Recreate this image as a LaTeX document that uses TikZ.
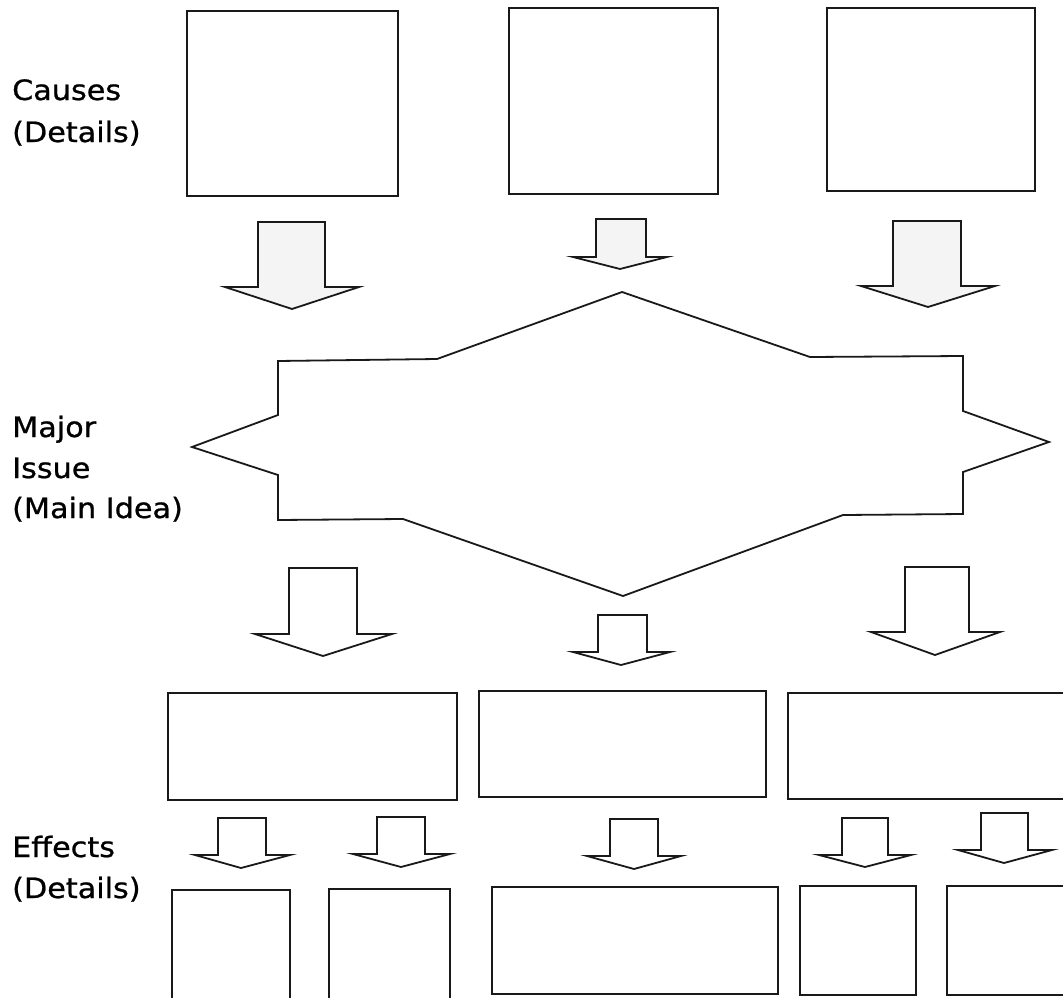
\documentclass[tikz,border=0pt]{standalone}
\usepackage{fontspec}
\newfontfamily\lblfont[FakeStretch=1.08,FakeBold=0.8]{DejaVu Sans}
\begin{document}
\begin{tikzpicture}[x=1pt,y=-1pt,
  outline/.style={draw=black!90, line width=1.8pt, line join=miter},
  box/.style={outline, fill=white, rectangle},
  shadedarrow/.style={outline, fill=gray!9},
  plainarrow/.style={outline, fill=white},
  lbl/.style={anchor=base west, inner sep=0pt, font=\lblfont\fontsize{28}{30}\selectfont, text=black}]
\useasboundingbox (0,0) rectangle (1063,998);
\clip (0,0) rectangle (1063,998);
\fill[white] (0,0) rectangle (1063,998);
% shaft left, shaft right, top, head y, head left, head right, tip x, tip y
\newcommand\myblockarrow[9]{%
  \draw[#1] (#2,#4) -- (#3,#4) -- (#3,#5) -- (#7,#5) -- (#8,#9) -- (#6,#5) -- (#2,#5) -- cycle;}
% labels
\node[lbl] (causes) at (12,100) {Causes};
\node[lbl] (causesd) at (12,142) {(Details)};
\node[lbl] (major) at (12,437) {Major};
\node[lbl] (issue) at (12,478) {Issue};
\node[lbl] (mainidea) at (12,518) {(Main Idea)};
\node[lbl] (effects) at (12,857) {Effects};
\node[lbl] (effectsd) at (12,898) {(Details)};
% top boxes (causes)
\draw[box] (187,11) rectangle (398,196) node[midway] (cause1) {};
\draw[box] (509,8) rectangle (718,194) node[midway] (cause2) {};
\draw[box] (827,8) rectangle (1035,191) node[midway] (cause3) {};
% top arrows
\myblockarrow{shadedarrow}{258}{325}{222}{287}{225}{359}{292}{309}
\myblockarrow{shadedarrow}{596}{646}{219}{257}{573}{667}{620}{269}
\myblockarrow{shadedarrow}{893}{961}{221}{286}{861}{995}{928}{307}
% major issue shape
\coordinate (issuetop) at (622,292);
\coordinate (issuebot) at (623,596);
\coordinate (issueleft) at (192,447);
\coordinate (issueright) at (1049,442);
\draw[outline, fill=white] (issuetop) -- (810,357) -- (963,356) -- (963,411) -- (issueright)
  -- (963,472) -- (963,514) -- (843,515) -- (issuebot) -- (403,519) -- (278,520)
  -- (278,475) -- (issueleft) -- (278,415) -- (278,361) -- (437,359) -- cycle;
% arrows below the issue
\myblockarrow{plainarrow}{289}{357}{568}{634}{255}{392}{323}{656}
\myblockarrow{plainarrow}{598}{647}{615}{652}{573}{670}{621}{665}
\myblockarrow{plainarrow}{905}{969}{567}{632}{871}{1000}{935}{655}
% effect boxes
\draw[box] (168,693) rectangle (457,800) node[midway] (effect1) {};
\draw[box] (479,691) rectangle (766,797) node[midway] (effect2) {};
\draw[box] (788,693) rectangle (1075,799) node[midway] (effect3) {};
% arrows to details
\myblockarrow{plainarrow}{218}{266}{818}{855}{195}{290}{241}{868}
\myblockarrow{plainarrow}{377}{425}{817}{854}{353}{450}{401}{867}
\myblockarrow{plainarrow}{610}{658}{819}{856}{587}{681}{634}{869}
\myblockarrow{plainarrow}{842}{888}{818}{855}{819}{911}{865}{867}
\myblockarrow{plainarrow}{981}{1028}{813}{850}{958}{1052}{1004}{863}
% detail boxes
\draw[box] (172,890) rectangle (290,1010) node[midway] (detail1) {};
\draw[box] (329,889) rectangle (450,1010) node[midway] (detail2) {};
\draw[box] (492,887) rectangle (778,994) node[midway] (detail3) {};
\draw[box] (800,886) rectangle (916,995) node[midway] (detail4) {};
\draw[box] (947,886) rectangle (1075,995) node[midway] (detail5) {};
\end{tikzpicture}
\end{document}
